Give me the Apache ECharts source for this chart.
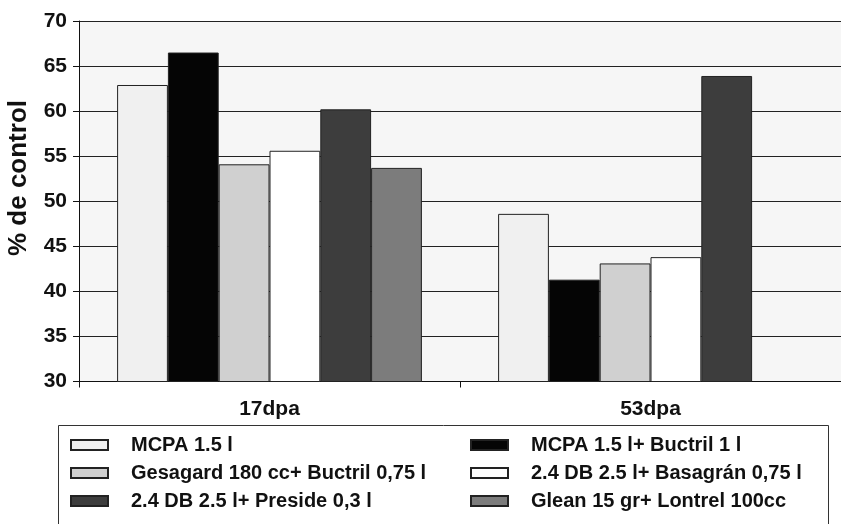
<!DOCTYPE html>
<html>
<head>
<meta charset="utf-8">
<script src="https://cdn.jsdelivr.net/npm/echarts@6/dist/echarts.min.js"></script>
<style>
html,body{margin:0;padding:0;background:#fff;}
#chart{width:841px;height:524px;}
</style>
</head>
<body>
<div id="chart"></div>
<script>
const categories = ['17dpa', '53dpa'];
const seriesNames = [
  'MCPA 1.5 l',
  'MCPA 1.5 l+ Buctril 1 l',
  'Gesagard 180 cc+ Buctril 0,75 l',
  '2.4 DB 2.5 l+ Basagrán 0,75 l',
  '2.4 DB 2.5 l+ Preside 0,3 l',
  'Glean 15 gr+ Lontrel 100cc'
];
const mcpa = [62.9, 48.6];
const mcpaBuctril = [66.5, 41.3];
const gesagard = [54.1, 43.1];
const basagran = [55.6, 43.8];
const preside = [60.2, 63.9];
const glean = [53.7, null];
const seriesValues = [mcpa, mcpaBuctril, gesagard, basagran, preside, glean];
const yTicks = { min: 30, max: 70, interval: 5 };
const yTitle = '% de control';

const fills = ['#f0f0f0', '#050505', '#d0d0d0', '#ffffff', '#3d3d3d', '#7c7c7c'];
const FONT = '"Liberation Sans", Arial, sans-serif';

const chart = echarts.init(document.getElementById('chart'), null, { renderer: 'canvas' });

const series = seriesNames.map((n, i) => ({
  name: n,
  type: 'bar',
  data: seriesValues[i],
  barGap: '0%',
  barCategoryGap: '20%',
  itemStyle: { color: fills[i], borderColor: '#222', borderWidth: 1 },
  emphasis: { disabled: true },
  animation: false
}));

const legendCommon = {
  orient: 'vertical',
  top: 435,
  itemWidth: 37,
  itemHeight: 10,
  itemGap: 8,
  padding: 0,
  selectedMode: false,
  icon: 'rect',
  textStyle: {
    fontFamily: FONT, fontSize: 20, fontWeight: 'bold', color: '#111',
    lineHeight: 20, padding: [0, 0, 0, 18]
  }
};

chart.setOption({
  backgroundColor: '#ffffff',
  animation: false,
  grid: {
    left: 79, right: -14, top: 21, bottom: 142.5,
    show: true, backgroundColor: '#f6f6f6', borderWidth: 0
  },
  legend: [
    Object.assign({}, legendCommon, { left: 70, data: [seriesNames[0], seriesNames[2], seriesNames[4]] }),
    Object.assign({}, legendCommon, { left: 470, data: [seriesNames[1], seriesNames[3], seriesNames[5]] })
  ],
  xAxis: {
    type: 'category',
    data: categories,
    axisLine: { lineStyle: { color: '#111', width: 1 } },
    axisTick: { show: true, length: 6, lineStyle: { color: '#111' } },
    axisLabel: { margin: 17, fontFamily: FONT, fontSize: 21, fontWeight: 'bold', color: '#111' }
  },
  yAxis: {
    type: 'value',
    min: yTicks.min, max: yTicks.max, interval: yTicks.interval,
    axisLine: { show: true, lineStyle: { color: '#111', width: 1 } },
    axisTick: { show: true, length: 6, lineStyle: { color: '#111' } },
    axisLabel: { margin: 12, fontFamily: FONT, fontSize: 21, fontWeight: 'bold', color: '#111' },
    splitLine: { show: true, lineStyle: { color: '#222', width: 1 } }
  },
  graphic: [
    {
      type: 'text',
      x: 19, y: 178,
      rotation: Math.PI / 2,
      style: {
        text: yTitle, fontFamily: FONT, fontSize: 26, fontWeight: 'bold', fill: '#111',
        align: 'center', verticalAlign: 'middle'
      }
    },
    {
      type: 'rect',
      shape: { x: 58.5, y: 425.5, width: 770, height: 130 },
      style: { fill: 'none', stroke: '#333', lineWidth: 1 },
      z: 10
    }
  ],
  series: series
});
</script>
</body>
</html>
